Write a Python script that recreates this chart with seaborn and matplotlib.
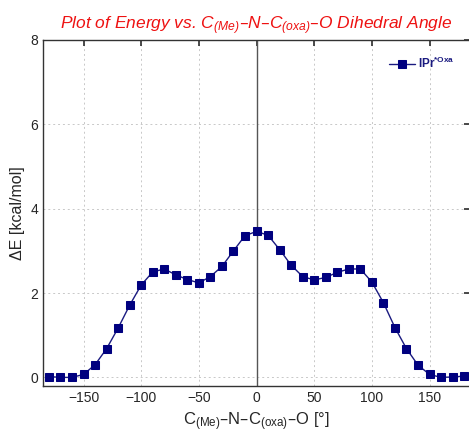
import numpy as np
import pandas as pd
import matplotlib
matplotlib.use("Agg")
import matplotlib.pyplot as plt
import seaborn as sns


# dihedral angle scan, step 10 deg
angles = list(range(-180, 181, 10))
energies = [
	0.02, 0.00, 0.00, 0.07, 0.30, 0.68, 1.17, 1.71, 2.19, 2.50,
	2.57, 2.43, 2.32, 2.24, 2.39, 2.63, 3.00, 3.36, 3.46, 3.37,
	3.03, 2.66, 2.39, 2.31, 2.37, 2.49, 2.57, 2.57, 2.26, 1.77,
	1.18, 0.68, 0.29, 0.07, 0.00, 0.01, 0.03,
]
series_name = r"$\mathregular{IPr^{*Oxa}}$"
x_ticks = [-150, -100, -50, 0, 50, 100, 150]
y_ticks = [0, 2, 4, 6, 8]


def plot_scan(df) -> None:
	fig = plt.figure(figsize=(4.69, 4.34), dpi=100)
	ax = fig.add_axes([0.092, 0.111, 0.91, 0.797])
	ax.axvline(0, color="#555555", lw=1.0, zorder=1)
	sns.lineplot(
		data=df,
		x="angle",
		y="energy",
		ax=ax,
		marker="s",
		markersize=5.5,
		markeredgecolor="#00007f",
		color="#1a1a80",
		markerfacecolor="#00007f",
		lw=1.0,
		label=series_name,
		zorder=3
	)
	ax.set_xlim(-185, 185)
	ax.set_ylim(-0.2, 8)
	ax.set_xticks(x_ticks)
	ax.set_yticks(y_ticks)
	ax.grid(True, ls=(0, (2, 3)), color="#c8c8c8", lw=0.7)
	ax.tick_params(direction="in", top=True, right=True, labelsize=10, length=4, color="#333333")
	for s in ax.spines.values():
		s.set_color("#333333")
		s.set_linewidth(1.0)
	ax.set_title(
		r"Plot of Energy vs. C$_{(Me)}$–N–C$_{(oxa)}$–O Dihedral Angle",
		color="#ee1111",
		fontstyle="italic",
		fontsize=12.5,
		pad=8
	)
	ax.set_xlabel(r"C$_{(Me)}$–N–C$_{(oxa)}$–O [°]", fontsize=12, labelpad=4)
	ax.set_ylabel("ΔE [kcal/mol]", fontsize=11.5, labelpad=4)
	leg = ax.legend(
		loc="upper right",
		frameon=False,
		handlelength=2.2,
		handletextpad=0.3,
		fontsize=8.5,
		bbox_to_anchor=(0.99, 0.985)
	)
	for t in leg.get_texts():
		t.set_fontweight("bold")
		t.set_color("#1a1a80")
	fig.savefig("out.png", dpi=100)


def main():
	sns.set_theme(style="white")
	plt.rcParams["font.family"] = ["Liberation Sans", "DejaVu Sans"]
	plt.rcParams["mathtext.default"] = "regular"
	df = pd.DataFrame({"angle": angles, "energy": energies})
	plot_scan(df)


if __name__ == "__main__":
	main()
